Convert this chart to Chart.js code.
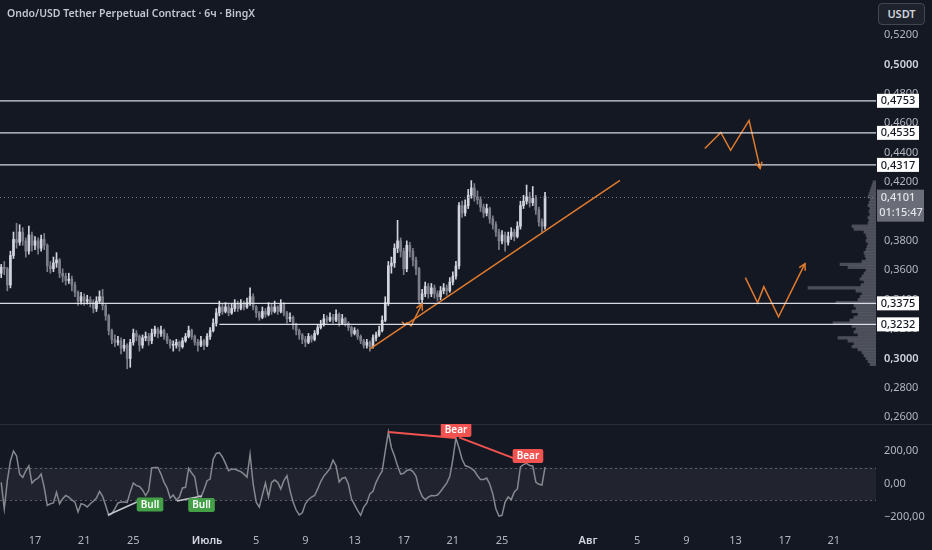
<!DOCTYPE html>
<html>
<head>
<meta charset="utf-8">
<script src="https://cdn.jsdelivr.net/npm/chart.js@4.4.1/dist/chart.umd.min.js"></script>
<style>
html, body { margin: 0; padding: 0; background: #141823; width: 932px; height: 550px; overflow: hidden; font-family: "Noto Sans", sans-serif; }
#wrap { position: relative; width: 932px; height: 550px; }
#priceChart { position: absolute; left: 0; top: 0; }
#cciChart { position: absolute; left: 0; top: 424px; }
#title { position: absolute; left: 7px; top: 6px; color: #c3c6ce; font-size: 10.5px; font-weight: 600; letter-spacing: 0; white-space: nowrap; }
#unit { position: absolute; left: 878px; top: 3px; width: 45px; height: 20px; border: 1px solid #434651; border-radius: 4px; background: #1e222d; color: #d1d4dc; font-size: 11px; font-weight: 600; line-height: 20px; text-align: center; }
</style>
</head>
<body>
<div id="wrap">
  <canvas id="priceChart" width="932" height="424"></canvas>
  <canvas id="cciChart" width="932" height="126"></canvas>
  <div id="title">Ondo/USD Tether Perpetual Contract · 6ч · BingX</div>
  <div id="unit">USDT</div>
</div>
<script>
// 6h candles, first one on 14 June 06:00 (day 0 = 17 June)
const firstDay = -2.75;
const candleStep = 0.25;

const opens = [
  .358,.362,.361,.350,.370,.381,.379,.386,.380,.373,
  .384,.377,.380,.375,.381,.377,.363,.361,.365,.367,
  .358,.356,.353,.354,.350,.345,.339,.342,.339,.340,
  .338,.334,.339,.342,.336,.329,.319,.313,.311,.312,
  .307,.309,.300,.311,.317,.315,.309,.314,.315,.312,
  .317,.320,.317,.319,.315,.312,.309,.309,.311,.308,
  .312,.315,.319,.315,.311,.309,.312,.309,.315,.319,
  .324,.331,.335,.332,.335,.331,.334,.337,.334,.337,
  .335,.338,.342,.335,.331,.328,.332,.330,.335,.332,
  .335,.332,.337,.331,.327,.328,.323,.319,.316,.313,
  .311,.315,.313,.317,.321,.323,.327,.326,.328,.326,
  .330,.324,.327,.324,.321,.317,.319,.315,.312,.309,
  .311,.308,.314,.316,.319,.326,.338,.363,.365,.375,
  .380,.373,.361,.377,.373,.367,.361,.340,.344,.349,
  .344,.348,.344,.342,.346,.348,.346,.352,.356,.363,
  .404,.399,.404,.411,.416,.410,.408,.403,.399,.402,
  .395,.391,.386,.380,.384,.379,.383,.386,.383,.390,
  .404,.407,.410,.406,.409,.401,.393,.390
];
const highs = [
  .364,.366,.362,.373,.386,.392,.391,.389,.382,.390,
  .386,.383,.382,.384,.385,.378,.366,.369,.372,.368,
  .361,.358,.358,.356,.352,.346,.345,.344,.343,.342,
  .340,.342,.346,.347,.337,.330,.320,.316,.315,.314,
  .313,.310,.313,.320,.319,.316,.316,.318,.317,.320,
  .322,.321,.322,.320,.317,.313,.312,.313,.312,.314,
  .317,.322,.320,.316,.313,.315,.313,.317,.321,.327,
  .334,.339,.337,.338,.337,.337,.340,.339,.340,.339,
  .341,.348,.344,.336,.332,.335,.334,.338,.337,.339,
  .336,.340,.338,.332,.331,.329,.324,.320,.317,.315,
  .317,.316,.319,.323,.326,.330,.329,.331,.330,.333,
  .331,.330,.328,.325,.322,.321,.320,.316,.313,.313,
  .312,.316,.318,.322,.329,.342,.366,.369,.378,.394,
  .382,.375,.380,.379,.375,.369,.362,.347,.352,.351,
  .351,.350,.346,.349,.351,.350,.355,.359,.366,.406,
  .407,.408,.415,.421,.419,.414,.410,.405,.405,.403,
  .397,.393,.388,.387,.386,.386,.389,.388,.393,.407,
  .411,.418,.413,.417,.411,.403,.395,.413
];
const lows = [
  .355,.357,.346,.348,.368,.375,.377,.377,.369,.371,
  .373,.374,.371,.373,.374,.359,.358,.359,.362,.355,
  .352,.350,.351,.346,.342,.336,.337,.336,.337,.335,
  .331,.332,.338,.333,.326,.316,.310,.308,.309,.303,
  .305,.293,.294,.309,.312,.305,.307,.312,.309,.310,
  .315,.314,.315,.313,.310,.307,.305,.307,.305,.307,
  .311,.314,.313,.309,.305,.308,.306,.308,.313,.318,
  .322,.329,.330,.331,.329,.330,.332,.332,.333,.333,
  .334,.336,.333,.328,.326,.327,.328,.329,.330,.331,
  .330,.331,.329,.324,.325,.320,.316,.313,.310,.308,
  .310,.311,.312,.316,.320,.322,.324,.325,.324,.325,
  .322,.323,.322,.319,.315,.316,.313,.310,.307,.307,
  .305,.307,.312,.315,.318,.325,.336,.358,.362,.372,
  .369,.357,.359,.369,.363,.357,.337,.337,.342,.341,
  .342,.341,.339,.340,.344,.343,.345,.350,.354,.361,
  .396,.397,.402,.409,.407,.405,.400,.396,.397,.392,
  .388,.383,.374,.378,.373,.377,.381,.380,.382,.388,
  .402,.405,.403,.404,.398,.390,.386,.388
];
const closes = [
  .362,.361,.350,.370,.381,.379,.386,.380,.373,.384,
  .377,.380,.375,.381,.377,.363,.361,.365,.367,.358,
  .356,.353,.354,.350,.345,.339,.342,.339,.340,.338,
  .334,.339,.342,.336,.329,.319,.313,.311,.312,.307,
  .309,.300,.311,.317,.315,.309,.314,.315,.312,.317,
  .320,.317,.319,.315,.312,.309,.309,.311,.308,.312,
  .315,.319,.315,.311,.309,.312,.309,.315,.319,.324,
  .331,.335,.332,.335,.331,.334,.337,.334,.337,.335,
  .338,.342,.335,.331,.328,.332,.330,.335,.332,.335,
  .332,.337,.331,.327,.328,.323,.319,.316,.313,.311,
  .315,.313,.317,.321,.323,.327,.326,.328,.326,.330,
  .324,.327,.324,.321,.317,.319,.315,.312,.309,.311,
  .308,.314,.316,.319,.326,.338,.363,.365,.375,.380,
  .373,.361,.377,.373,.367,.361,.340,.344,.349,.344,
  .348,.344,.342,.346,.348,.346,.352,.356,.363,.404,
  .399,.404,.411,.416,.410,.408,.403,.399,.402,.395,
  .391,.386,.380,.384,.379,.383,.386,.383,.390,.404,
  .407,.410,.406,.409,.401,.393,.390,.4101
];
const cci = [
  10,-150,20,140,200,170,60,40,80,110,
  5,25,35,60,-20,-130,-120,-115,-50,-120,
  -90,-70,-80,-97,-110,-170,-120,-125,-139,-120,
  -105,-85,-45,-75,-130,-190,-180,-150,-115,-110,
  -110,-112,-48,6,-10,-15,-36,-70,-40,97,
  100,100,60,10,-24,-85,-67,-97,-79,-24,
  -20,95,67,42,-67,-79,-35,20,30,150,
  185,190,164,125,80,90,90,82,75,60,
  42,180,0,-110,-140,-67,6,-79,10,24,
  10,-30,20,50,-40,-110,-158,-188,-175,-120,
  -95,-79,-70,-30,15,48,70,95,145,109,
  12,35,40,0,-90,-125,-160,-190,-140,-115,
  -60,-45,10,48,79,200,315,220,170,110,
  60,65,82,88,75,48,-30,-75,-95,-80,
  -70,-72,-67,-45,-20,5,45,150,279,218,
  150,112,105,95,80,50,28,28,36,0,
  -60,-150,-195,-190,-110,-79,-95,-48,-30,103,
  118,125,112,109,12,-2,-6,103
];
const cciTicks = [-200, 0, 200];

// horizontal levels and the day each one starts
const levels = [0.4753, 0.4535, 0.4317, 0.3375, 0.3232];
const levelStart = [-3, -3, -3, -3, 15];
const lastPrice = 0.4101;
const lastTimer = '01:15:47';

// hand drawings: [day, price]
const trendLine = [[27.26, 0.3065], [47.6, 0.4211]];
const drawSmall = [[29.86, 0.3250], [30.1, 0.3229], [30.27, 0.3243], [30.6, 0.3222], [31.5, 0.3372]];
const drawDown = [[54.5, 0.4429], [55.8, 0.4538], [56.6, 0.4416], [58.1, 0.4620], [59.0, 0.4293]];
const drawUp = [[57.8, 0.3550], [58.8, 0.3379], [59.3, 0.3488], [60.5, 0.3284], [62.65, 0.3645]];

// visible range volume profile
const vpPrice = [
  .296,.298,.300,.302,.304,.306,.308,.310,.312,.314,.316,.318,.320,.322,.324,.326,
  .328,.330,.332,.334,.336,.338,.340,.342,.344,.346,.348,.350,.352,.354,.356,.358,
  .360,.362,.364,.366,.368,.370,.372,.374,.376,.378,.380,.382,.384,.386,.388,.390,
  .392,.394,.396,.398,.400,.402,.404,.406,.408,.410,.412,.414,.416,.418,.420
];
const vpVol = [
  6,8,10,12,14,18,24,22,28,38,18,22,20,24,43,26,
  22,18,24,20,22,40,18,16,14,20,68,15,12,16,14,12,
  10,28,36,14,10,11,12,10,9,8,10,9,10,12,22,24,
  8,7,8,6,7,6,8,7,6,8,7,6,5,4,3
];

// CCI divergences: [day, value]
const bullLines = [[[5.94, -188], [8.30, -109]], [[11.55, -103], [13.59, -73]]];
const bearLines = [[[28.75, 315], [34.25, 279]], [[34.5, 283], [40.0, 127]]];
const bullTags = [[9.36, -124], [13.55, -127]];
const bearTags = [[34.26, 327], [40.11, 170]];

const tickDays = [0, 4, 8, 14, 18, 22, 26, 30, 34, 38, 45, 49, 53, 57, 61, 65];
const tickLabels = ['17', '21', '25', 'Июль', '5', '9', '13', '17', '21', '25', 'Авг', '5', '9', '13', '17', '21'];
const monthTicks = ['Июль', 'Авг'];
const boldPrices = [0.5, 0.3];

const dayMin = -2.848;
const dayMax = 68.43;
const priceMin = 0.2554;
const priceMax = 0.5439;
const cciMin = -267;
const cciMax = 364;

const UP = '#d1d4dc';
const DOWN = '#7c7f8a';
const ORANGE = '#e07b2e';
const AXIS_W = 56;
const TEXT = '#b2b5be';

Chart.defaults.font.family = "'Noto Sans', sans-serif";
Chart.defaults.animation = false;

const candleDays = closes.map((_, i) => firstDay + i * candleStep);
const candleColors = closes.map((c, i) => c >= opens[i] ? UP : DOWN);
const fmt = v => v.toFixed(4).replace('.', ',');
const toPts = arr => arr.map(([x, y]) => ({ x, y }));
const isBold = ctx => !!ctx.tick && boldPrices.some(v => Math.abs(ctx.tick.value - v) < 1e-6);
const isMonth = ctx => ctx.index !== undefined && monthTicks.includes(tickLabels[ctx.index]);

function fixAxisW(s) {
  s.width = AXIS_W;
  s.paddingTop = 0;
  s.paddingBottom = 0;
}

function arrowHead(ctx, p1, p2) {
  const a = Math.atan2(p2.y - p1.y, p2.x - p1.x);
  const len = 7;
  ctx.beginPath();
  ctx.moveTo(p2.x - len * Math.cos(a - 0.5), p2.y - len * Math.sin(a - 0.5));
  ctx.lineTo(p2.x, p2.y);
  ctx.lineTo(p2.x - len * Math.cos(a + 0.5), p2.y - len * Math.sin(a + 0.5));
  ctx.stroke();
}

const priceOverlay = {
  id: 'priceOverlay',
  afterDatasetsDraw(chart) {
    const { ctx, chartArea: area, scales: { x, y } } = chart;
    ctx.save();
    ctx.beginPath();
    ctx.rect(area.left, area.top, area.right - area.left, area.bottom - area.top);
    ctx.clip();
    // last price dotted line
    ctx.strokeStyle = 'rgba(140,143,153,0.8)';
    ctx.lineWidth = 1;
    ctx.setLineDash([1, 3]);
    const ly = Math.round(y.getPixelForValue(lastPrice)) + 0.5;
    ctx.beginPath();
    ctx.moveTo(area.left, ly);
    ctx.lineTo(area.right, ly);
    ctx.stroke();
    ctx.setLineDash([]);
    // levels
    ctx.strokeStyle = 'rgba(232,234,240,0.92)';
    ctx.lineWidth = 1.3;
    levels.forEach((lv, i) => {
      const py = y.getPixelForValue(lv);
      ctx.beginPath();
      ctx.moveTo(x.getPixelForValue(levelStart[i]), py);
      ctx.lineTo(area.right, py);
      ctx.stroke();
    });
    // arrow heads on drawings
    ctx.strokeStyle = ORANGE;
    ctx.lineWidth = 1.5;
    [drawSmall, drawDown, drawUp].forEach(d => {
      const a = d[d.length - 2], b = d[d.length - 1];
      arrowHead(ctx,
        { x: x.getPixelForValue(a[0]), y: y.getPixelForValue(a[1]) },
        { x: x.getPixelForValue(b[0]), y: y.getPixelForValue(b[1]) });
    });
    ctx.restore();
  },
  afterDraw(chart) {
    const { ctx, chartArea: area, scales: { y } } = chart;
    const bx = area.right + 1;
    ctx.save();
    ctx.font = "500 11px 'Noto Sans', sans-serif";
    ctx.textAlign = 'center';
    ctx.textBaseline = 'middle';
    levels.forEach(lv => {
      const py = y.getPixelForValue(lv);
      ctx.fillStyle = '#ffffff';
      ctx.fillRect(bx, py - 7, 42, 14);
      ctx.fillStyle = '#131722';
      ctx.fillText(fmt(lv), bx + 21, py + 0.5);
    });
    const py = y.getPixelForValue(lastPrice);
    ctx.fillStyle = '#6a6d78';
    ctx.fillRect(bx, py - 7, 47, 32);
    ctx.fillStyle = '#e3e5ea';
    ctx.fillText(fmt(lastPrice), bx + 21, py + 1);
    ctx.fillText(lastTimer, bx + 24, py + 16);
    ctx.restore();
  }
};

new Chart(document.getElementById('priceChart'), {
  type: 'bar',
  data: {
    datasets: [
      {
        type: 'bar',
        indexAxis: 'y',
        data: vpPrice.map((p, i) => ({ y: p, x: [0, vpVol[i]] })),
        xAxisID: 'xv',
        yAxisID: 'y',
        backgroundColor: 'rgba(120,123,134,0.55)',
        barThickness: 2.6,
        grouped: false,
        order: 5
      },
      {
        type: 'bar',
        data: candleDays.map((d, i) => ({ x: d, y: [lows[i], highs[i]] })),
        xAxisID: 'x',
        yAxisID: 'y',
        backgroundColor: candleColors,
        barThickness: 1,
        grouped: false,
        order: 4
      },
      {
        type: 'bar',
        data: candleDays.map((d, i) => ({ x: d, y: [opens[i], closes[i]] })),
        xAxisID: 'x',
        yAxisID: 'y',
        backgroundColor: candleColors,
        barThickness: 2,
        minBarLength: 1,
        grouped: false,
        order: 3
      },
      ...[trendLine, drawSmall, drawDown, drawUp].map(d => ({
        type: 'line',
        data: toPts(d),
        xAxisID: 'x',
        yAxisID: 'y',
        borderColor: ORANGE,
        borderWidth: 1.5,
        pointRadius: 0,
        tension: 0,
        order: 1
      }))
    ]
  },
  options: {
    responsive: false,
    layout: { padding: 0 },
    plugins: { legend: { display: false }, tooltip: { enabled: false } },
    scales: {
      x: { type: 'linear', min: dayMin, max: dayMax, display: false, offset: false, grid: { display: false } },
      xv: { type: 'linear', min: 0, max: 876, reverse: true, display: false, offset: false, grid: { display: false } },
      y: {
        type: 'linear',
        position: 'right',
        min: priceMin,
        max: priceMax,
        offset: false,
        afterFit: fixAxisW,
        grid: { display: false, drawTicks: false },
        border: { display: false },
        ticks: {
          stepSize: 0.02,
          includeBounds: false,
          padding: 8,
          color: ctx => isBold(ctx) ? '#d1d4dc' : TEXT,
          font: ctx => ({ size: 11, weight: isBold(ctx) ? '600' : '400' }),
          callback: v => v > 0.53 ? '' : fmt(v)
        }
      }
    }
  },
  plugins: [priceOverlay]
});

const cciOverlay = {
  id: 'cciOverlay',
  beforeDatasetsDraw(chart) {
    const { ctx, chartArea: area, scales: { y } } = chart;
    const top = y.getPixelForValue(100), bot = y.getPixelForValue(-100);
    ctx.save();
    ctx.fillStyle = 'rgba(120,123,134,0.13)';
    ctx.fillRect(area.left, top, area.right - area.left, bot - top);
    ctx.strokeStyle = 'rgba(120,123,134,0.7)';
    ctx.lineWidth = 1;
    ctx.setLineDash([2, 3]);
    [top, bot].forEach(py => {
      ctx.beginPath();
      ctx.moveTo(area.left, Math.round(py) + 0.5);
      ctx.lineTo(area.right, Math.round(py) + 0.5);
      ctx.stroke();
    });
    ctx.setLineDash([]);
    ctx.strokeStyle = '#2a2e39';
    ctx.beginPath();
    ctx.moveTo(0, 0.5);
    ctx.lineTo(chart.width, 0.5);
    ctx.stroke();
    ctx.restore();
  },
  afterDatasetsDraw(chart) {
    const { ctx, scales: { x, y } } = chart;
    ctx.save();
    ctx.font = "600 10px 'Noto Sans', sans-serif";
    ctx.textAlign = 'center';
    ctx.textBaseline = 'middle';
    const tag = (pos, text, bg) => {
      const px = x.getPixelForValue(pos[0]), py = y.getPixelForValue(pos[1]);
      const w = ctx.measureText(text).width + 8, h = 14;
      ctx.fillStyle = bg;
      ctx.beginPath();
      ctx.roundRect(px - w / 2, py - h / 2, w, h, 2);
      ctx.fill();
      ctx.fillStyle = '#ffffff';
      ctx.fillText(text, px, py + 0.5);
    };
    bullTags.forEach(p => tag(p, 'Bull', '#43a047'));
    bearTags.forEach(p => tag(p, 'Bear', '#f05350'));
    ctx.restore();
  }
};

new Chart(document.getElementById('cciChart'), {
  type: 'line',
  data: {
    datasets: [
      {
        data: candleDays.map((d, i) => ({ x: d, y: cci[i] })),
        borderColor: '#85888f',
        borderWidth: 1.5,
        pointRadius: 0,
        tension: 0,
        order: 3
      },
      ...bullLines.map(l => ({
        data: toPts(l), borderColor: '#c4c6cc', borderWidth: 1.5, pointRadius: 0, order: 2
      })),
      ...bearLines.map(l => ({
        data: toPts(l), borderColor: '#f05350', borderWidth: 2, pointRadius: 0, order: 2
      }))
    ]
  },
  options: {
    responsive: false,
    layout: { padding: 0 },
    plugins: { legend: { display: false }, tooltip: { enabled: false } },
    scales: {
      x: {
        type: 'linear',
        min: dayMin,
        max: dayMax,
        offset: false,
        afterBuildTicks: s => { s.ticks = tickDays.map(v => ({ value: v })); },
        afterFit: s => { s.height = 22; s.paddingLeft = 0; s.paddingRight = 0; },
        grid: { display: false, drawTicks: false },
        border: { display: false },
        ticks: {
          autoSkip: false,
          maxRotation: 0,
          padding: 6,
          color: ctx => isMonth(ctx) ? '#d1d4dc' : TEXT,
          font: ctx => ({ size: 11, weight: isMonth(ctx) ? '600' : '400' }),
          callback: (v, i) => tickLabels[i]
        }
      },
      y: {
        type: 'linear',
        position: 'right',
        min: cciMin,
        max: cciMax,
        offset: false,
        afterFit: fixAxisW,
        afterBuildTicks: s => { s.ticks = cciTicks.map(v => ({ value: v })); },
        grid: { display: false, drawTicks: false },
        border: { display: false },
        ticks: {
          padding: 8,
          color: TEXT,
          font: { size: 11 },
          callback: v => (v < 0 ? '−' : '') + Math.abs(v).toFixed(2).replace('.', ',')
        }
      }
    }
  },
  plugins: [cciOverlay]
});
</script>
</body>
</html>
